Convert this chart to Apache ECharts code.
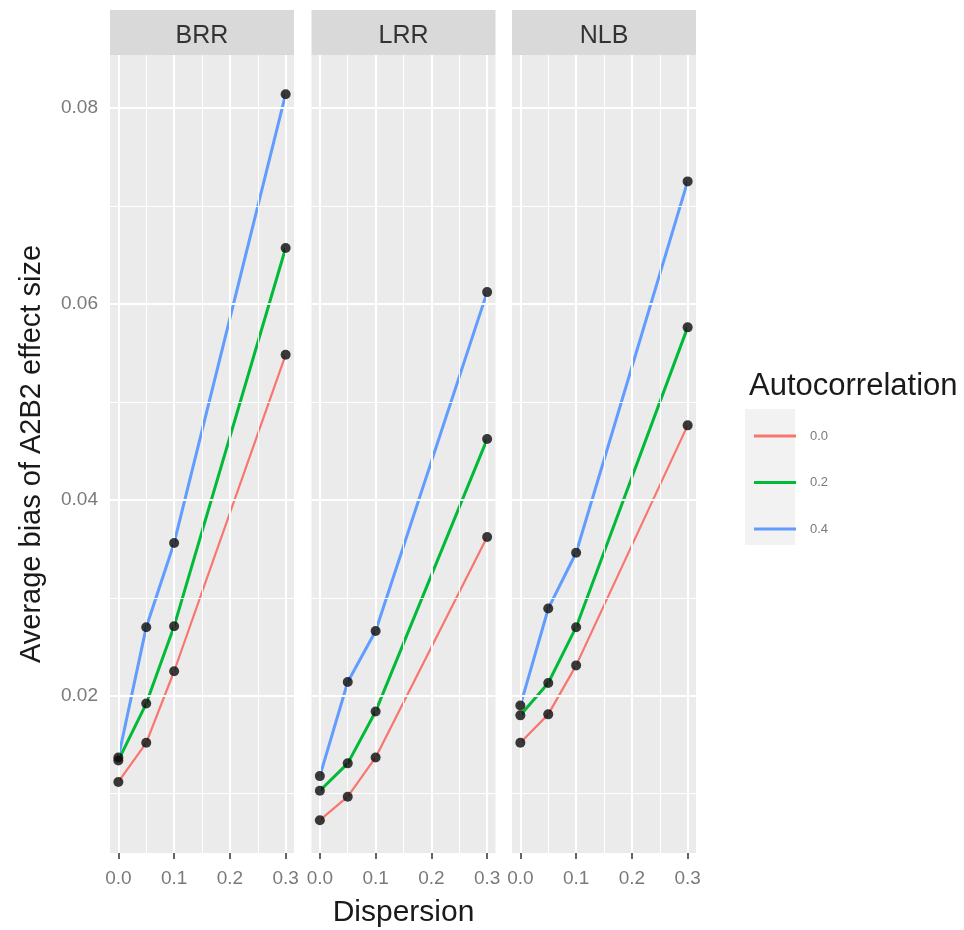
<!DOCTYPE html>
<html><head><meta charset="utf-8">
<script src="https://cdn.jsdelivr.net/npm/echarts@6/dist/echarts.min.js"></script>
<style>html,body{margin:0;padding:0;background:#fff}#c{width:964px;height:930px}</style>
</head><body><div id="c"></div>
<script>
// ---- data ----
const dispersion = [0, 0.05, 0.1, 0.3];
const panels = ['BRR', 'LRR', 'NLB'];
const autocorr = ['0.0', '0.2', '0.4'];
const brr_00 = [0.0112, 0.0152, 0.0225, 0.0548];
const brr_02 = [0.0134, 0.0192, 0.0271, 0.0657];
const brr_04 = [0.0137, 0.0270, 0.0356, 0.0814];
const lrr_00 = [0.0073, 0.0097, 0.0137, 0.0362];
const lrr_02 = [0.0103, 0.0131, 0.0184, 0.0462];
const lrr_04 = [0.0118, 0.0214, 0.0266, 0.0612];
const nlb_00 = [0.0152, 0.0181, 0.0231, 0.0476];
const nlb_02 = [0.0180, 0.0213, 0.0270, 0.0576];
const nlb_04 = [0.0190, 0.0289, 0.0346, 0.0725];
const yTicks = [0.02, 0.04, 0.06, 0.08];
const yMinor = [0.01, 0.03, 0.05, 0.07];
const xTicks = [0, 0.1, 0.2, 0.3];
const xMinor = [0.05, 0.15, 0.25];

const panelData = [[brr_00, brr_02, brr_04], [lrr_00, lrr_02, lrr_04], [nlb_00, nlb_02, nlb_04]];
const colors = ['#F8766D', '#00BA38', '#619CFF'];
const lineWidths = [2.2, 3, 3];
const FONT = '"Liberation Sans", Arial, sans-serif';

const lefts = [110, 311.5, 512];
const PW = 184, TOP = 55, PH = 798;
const YMIN = 0.00395, YMAX = 0.0854, XMIN = -0.015, XMAX = 0.315;

const grids = [], xAxes = [], yAxes = [], series = [], graphics = [];
panels.forEach((p, i) => {
  grids.push({left: lefts[i], top: TOP, width: PW, height: PH, show: true,
    backgroundColor: '#EBEBEB', borderWidth: 0, containLabel: false, outerBoundsMode: 'none'});
  xAxes.push({
    type: 'value', gridIndex: i, min: XMIN, max: XMAX,
    axisLine: {show: false}, splitLine: {show: false},
    axisTick: {show: true, length: 6, lineStyle: {color: '#333', width: 1.5}, customValues: xTicks},
    axisLabel: {show: true, customValues: xTicks, formatter: v => v.toFixed(1), margin: 16,
      fontSize: 19, color: '#7a7a7a', fontFamily: FONT},
    name: i === 1 ? 'Dispersion' : '', nameLocation: 'middle', nameGap: 45,
    nameTextStyle: {fontSize: 30, color: '#1a1a1a', fontFamily: FONT}
  });
  yAxes.push({
    type: 'value', gridIndex: i, min: YMIN, max: YMAX,
    axisLine: {show: false}, splitLine: {show: false},
    axisTick: {show: i === 0, length: 6, lineStyle: {color: '#333', width: 1.5}, customValues: yTicks},
    axisLabel: {show: i === 0, customValues: yTicks, formatter: v => v.toFixed(2), margin: 12,
      fontSize: 19, color: '#7a7a7a', fontFamily: FONT},
    name: i === 0 ? 'Average bias of A2B2 effect size' : '', nameLocation: 'middle', nameRotate: 90, nameGap: 64,
    nameTextStyle: {fontSize: 29, color: '#1a1a1a', fontFamily: FONT}
  });
  // grid lines
  const ml = [];
  yMinor.forEach(v => ml.push({yAxis: v, lineStyle: {color: '#fff', width: 1, type: 'solid'}}));
  xMinor.forEach(v => ml.push({xAxis: v, lineStyle: {color: '#fff', width: 1, type: 'solid'}}));
  yTicks.forEach(v => ml.push({yAxis: v, lineStyle: {color: '#fff', width: 2, type: 'solid'}}));
  xTicks.forEach(v => ml.push({xAxis: v, lineStyle: {color: '#fff', width: 2, type: 'solid'}}));
  series.push({type: 'line', name: 'grid' + i, xAxisIndex: i, yAxisIndex: i, data: [], z: 1, silent: true,
    markLine: {silent: true, symbol: ['none', 'none'], label: {show: false}, animation: false, data: ml}});
  // lines
  panelData[i].forEach((vals, k) => {
    series.push({type: 'line', name: autocorr[k], xAxisIndex: i, yAxisIndex: i, z: 3,
      data: dispersion.map((d, j) => [d, vals[j]]), showSymbol: false,
      lineStyle: {color: colors[k], width: lineWidths[k]}, itemStyle: {color: colors[k]}, animation: false});
  });
  panelData[i].forEach((vals, k) => {
    series.push({type: 'scatter', name: 'pts' + i + k, xAxisIndex: i, yAxisIndex: i, z: 5,
      data: dispersion.map((d, j) => [d, vals[j]]), symbolSize: 10,
      itemStyle: {color: '#0a0a0a'}, animation: false});
  });
  // strip
  graphics.push({type: 'rect', shape: {x: lefts[i], y: 10, width: PW, height: 45}, style: {fill: '#D9D9D9'}});
  graphics.push({type: 'text', x: lefts[i] + PW / 2, y: 36,
    style: {text: p, fontSize: 25, fill: '#333', fontFamily: FONT, textAlign: 'center', textVerticalAlign: 'middle'}});
});
// legend key background
graphics.push({type: 'rect', shape: {x: 745, y: 409, width: 50, height: 136}, style: {fill: '#F2F2F2'}, z: -1});

const chart = echarts.init(document.getElementById('c'), null, {renderer: 'canvas'});
chart.setOption({
  animation: false,
  backgroundColor: '#fff',
  title: {text: 'Autocorrelation', left: 744, top: 366,
    textStyle: {fontSize: 31, fontWeight: 'normal', color: '#1a1a1a', fontFamily: FONT}},
  legend: {orient: 'vertical', left: 749, top: 423, data: autocorr, icon: 'rect',
    itemWidth: 42, itemHeight: 3, itemGap: 30.5,
    textStyle: {fontSize: 13, color: '#7a7a7a', fontFamily: FONT, lineHeight: 16, padding: [0, 0, 0, 9]},
    selectedMode: false},
  grid: grids, xAxis: xAxes, yAxis: yAxes, series: series,
  graphic: graphics
});
</script></body></html>
